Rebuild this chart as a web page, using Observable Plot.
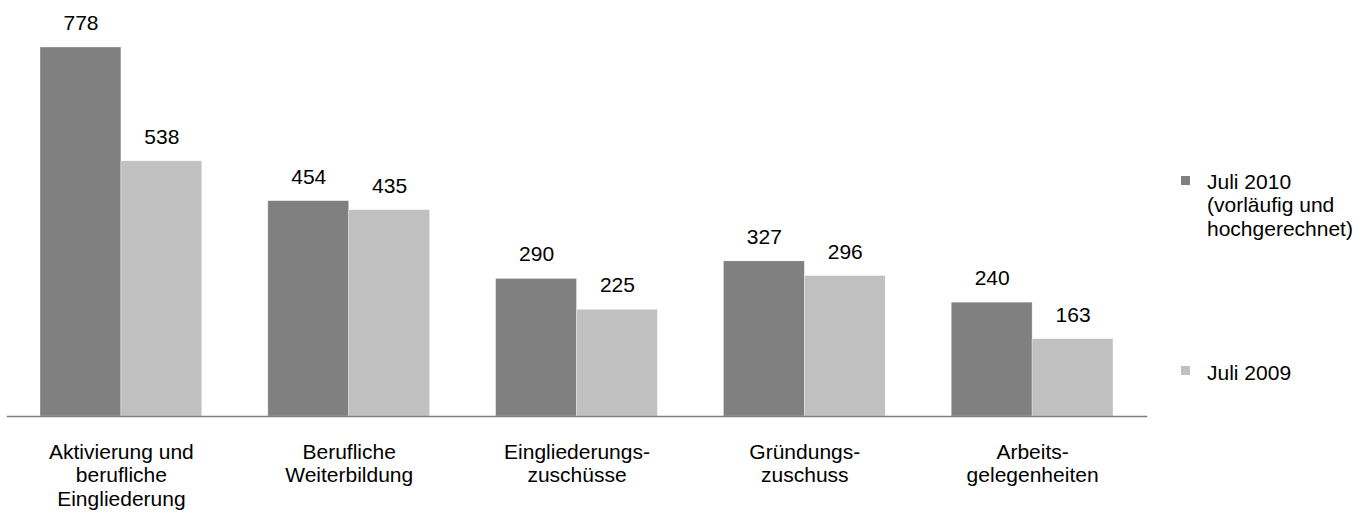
<!DOCTYPE html>
<html>
<head>
<meta charset="utf-8">
<script src="https://cdn.jsdelivr.net/npm/d3@7"></script>
<script src="https://cdn.jsdelivr.net/npm/@observablehq/plot@0.6"></script>
<style>
  html, body { margin: 0; padding: 0; background: #fff; }
  #wrap { position: relative; width: 1369px; height: 513px; font-family: "Liberation Sans", Arial, sans-serif; color: #000; }
  .leg { position: absolute; font-size: 21px; line-height: 23.3px; white-space: nowrap; }
  .sw { position: absolute; width: 9px; height: 9px; }
</style>
</head>
<body>
<div id="wrap"></div>
<script>
const categories = [
  "Aktivierung und\nberufliche\nEingliederung",
  "Berufliche\nWeiterbildung",
  "Eingliederungs-\nzuschüsse",
  "Gründungs-\nzuschuss",
  "Arbeits-\ngelegenheiten"
];
const seriesNames = ["Juli 2010\n(vorläufig und\nhochgerechnet)", "Juli 2009"];
const values2010 = [778, 454, 290, 327, 240];
const values2009 = [538, 435, 225, 296, 163];
const colors = ["#808080", "#c0c0c0"];

const data = categories.flatMap((c, i) => [
  {cat: c, series: seriesNames[0], value: values2010[i]},
  {cat: c, series: seriesNames[1], value: values2009[i]}
]);

const chart = Plot.plot({
  width: 1369,
  height: 513,
  marginLeft: 7,
  marginRight: 223,
  marginTop: 47,
  marginBottom: 97,
  style: {fontFamily: "'Liberation Sans', Arial, sans-serif", fontSize: "21px", color: "#000", background: "transparent", overflow: "visible"},
  fx: {domain: categories, paddingInner: 0.29, paddingOuter: 0.145, round: false, axis: null, label: null},
  x: {domain: seriesNames, padding: 0, round: false, axis: null, label: null},
  y: {domain: [0, 778], axis: null, label: null},
  color: {domain: seriesNames, range: colors},
  marks: [
    Plot.barY(data, {fx: "cat", x: "series", y: "value", fill: "series", stroke: "#fff", strokeWidth: 0.6, strokeOpacity: 0.5}),
    Plot.text(data, {fx: "cat", x: "series", y: "value", text: d => String(d.value), lineAnchor: "bottom", dy: -17.5, fontSize: 21, fill: "#000"}),
    Plot.text(categories, {fx: d => d, text: d => d, frameAnchor: "bottom", lineAnchor: "top", dy: 26, lineHeight: 1.11, fontSize: 21, fill: "#000"}),
    Plot.frame({anchor: "bottom", facet: "super", insetLeft: -33, insetRight: -33, stroke: "#808080", strokeWidth: 1.5})
  ]
});

const wrap = document.getElementById("wrap");
wrap.appendChild(chart);

// legend (HTML, placed in the right margin)
const legendItems = [
  {name: seriesNames[0], color: colors[0], textTop: 170.1, swTop: 176},
  {name: seriesNames[1], color: colors[1], textTop: 361.1, swTop: 366}
];
for (const it of legendItems) {
  const sw = document.createElement("div");
  sw.className = "sw";
  sw.style.left = "1181px";
  sw.style.top = it.swTop + "px";
  sw.style.background = it.color;
  wrap.appendChild(sw);
  const t = document.createElement("div");
  t.className = "leg";
  t.style.left = "1207px";
  t.style.top = it.textTop + "px";
  t.innerHTML = it.name.split("\n").join("<br>");
  wrap.appendChild(t);
}
</script>
</body>
</html>
